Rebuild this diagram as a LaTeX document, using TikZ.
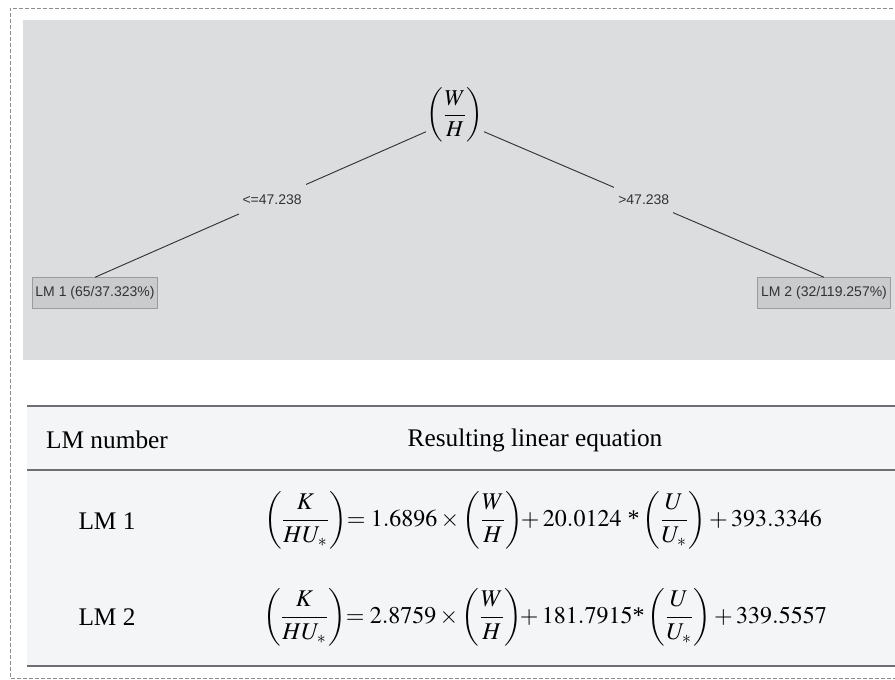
\documentclass[tikz,border=0pt]{standalone}
\usepackage{mathptmx}
\usepackage{fontspec}
\setmainfont{Liberation Serif}
\newfontfamily\guifont{Liberation Sans}
\usetikzlibrary{positioning,calc}
\definecolor{panel}{HTML}{DCDDDF}
\definecolor{sheet}{HTML}{F4F5F7}
\definecolor{leaffill}{HTML}{CACBCD}
\definecolor{leafedge}{HTML}{9A9B9D}
\definecolor{guiink}{HTML}{333335}
\definecolor{rulegrey}{HTML}{6E6F72}
\definecolor{frame}{HTML}{8C8D90}
\tikzset{
  every picture/.style={line width=0.6pt},
  leaf/.style={draw=leafedge, fill=leaffill, text=guiink, font=\guifont\fontsize{10.5}{12}\selectfont, minimum height=23pt, inner xsep=2.5pt},
  split/.style={fill=panel, text=guiink, font=\guifont\fontsize{10.5}{12}\selectfont, inner xsep=3pt, inner ysep=8pt},
  rootnode/.style={inner sep=0pt, font=\fontsize{17}{20}\selectfont},
  branch/.style={draw=guiink, line width=0.7pt},
  hrule/.style={draw=rulegrey, line width=1.4pt},
  cell/.style={font=\fontsize{19}{22}\selectfont, text=black},
  eqcell/.style={font=\fontsize{18}{22}\selectfont, text=black},
}

\begin{document}
\begin{tikzpicture}[x=0.75pt, y=-0.75pt]
\useasboundingbox (0,0) rectangle (895,680);
% frame and backgrounds
\draw[frame, dash pattern=on 3pt off 1.5pt] (905,8) -| (10,678) -- (905,678);
\fill[panel] (23,20) rectangle (895,360);
\fill[sheet] (27,406) rectangle (895,666);

% model tree
\node[rootnode] (root) at (455,115) {$\displaystyle\left(\frac{W}{H}\right)$};
\node[leaf] (lm1) at (95,293) {LM 1 (65/37.323\%)};
\node[leaf] (lm2) at (824,293) {LM 2 (32/119.257\%)};
\draw[branch] (root.-150) -- node[split, pos=0.465] {<=47.238} (lm1.north);
\draw[branch] (root.-30) -- node[split, pos=0.47] {>47.238} (lm2.north);

% table of linear models
\draw[hrule] (27,406) -- (895,406);
\draw[hrule] (27,470) -- (895,470);
\draw[hrule] (27,666) -- (895,666);
\node[cell] (hnum) at (107,440) {LM number};
\node[cell] (heq) at (535,440) {Resulting linear equation};
\node[cell] (num1) at (107,521) {LM 1};
\node[cell] (num2) at (107,617) {LM 2};
\node[eqcell] (eq1) at (543,520) {$\displaystyle\left(\frac{K}{HU_*}\right)\!\!=1.6896\times\left(\frac{W}{H}\right)\!\!+20.0124\mbox{ *}\left(\frac{U}{U_*}\right)+393.3346$};
\node[eqcell] (eq2) at (545,617) {$\displaystyle\left(\frac{K}{HU_*}\right)\!\!=2.8759\times\left(\frac{W}{H}\right)\!\!+181.7915\mbox{*}\left(\frac{U}{U_*}\right)+339.5557$};
\end{tikzpicture}
\end{document}
